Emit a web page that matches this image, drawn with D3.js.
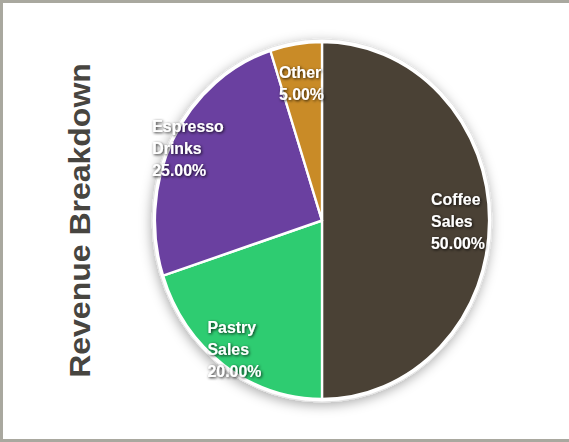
<!DOCTYPE html>
<html>
<head>
<meta charset="utf-8">
<script src="https://cdn.jsdelivr.net/npm/d3@7"></script>
<style>
  html, body { margin: 0; padding: 0; background: #fff; }
  svg { display: block; }
</style>
</head>
<body>
<svg id="chart" width="569" height="442"></svg>
<script>
// ---- data ----
const categories = ["Coffee Sales", "Pastry Sales", "Espresso Drinks", "Other"];
const values = [50, 20, 25, 5];
const labelLines = [["Coffee", "Sales"], ["Pastry", "Sales"], ["Espresso", "Drinks"], ["Other"]];
const colors = ["#4A4135", "#2ECC71", "#6A40A0", "#C98B27"];
const title = "Revenue Breakdown";

// ---- layout (label distance from centre, as a fraction of the radius) ----
const labelRadius = [0.815, 0.89, 0.9, 0.78];

const W = 569, H = 442;
const cx = 322, cy = 220.5, R = 178.5, sx = 0.936;

const svg = d3.select("#chart");
const defs = svg.append("defs");
const sh = defs.append("filter").attr("id", "pieShadow").attr("x", "-20%").attr("y", "-20%").attr("width", "140%").attr("height", "140%");
sh.append("feDropShadow").attr("dx", -1).attr("dy", 3).attr("stdDeviation", 6).attr("flood-color", "#000").attr("flood-opacity", 0.32);
const ts = defs.append("filter").attr("id", "txtShadow").attr("x", "-20%").attr("y", "-20%").attr("width", "140%").attr("height", "140%");
ts.append("feDropShadow").attr("dx", 1).attr("dy", 1).attr("stdDeviation", 1.6).attr("flood-color", "#000").attr("flood-opacity", 0.85);

// frame
svg.append("rect").attr("x", 0).attr("y", 0).attr("width", W).attr("height", H).attr("fill", "#fff");
svg.append("rect").attr("x", 0).attr("y", 0).attr("width", W).attr("height", 3).attr("fill", "#A9A89F");
svg.append("rect").attr("x", 0).attr("y", 0).attr("width", 3).attr("height", H).attr("fill", "#A9A89F");
svg.append("rect").attr("x", 0).attr("y", 439).attr("width", W).attr("height", 3).attr("fill", "#A9A89F");

// title
svg.append("text")
  .attr("transform", `translate(90,${cy}) scale(${sx},1) rotate(-90)`)
  .attr("text-anchor", "middle")
  .attr("font-family", "Liberation Sans, Arial, sans-serif")
  .attr("font-weight", "bold")
  .attr("font-size", 32)
  .attr("fill", "#474540")
  .text(title);

const g = svg.append("g").attr("transform", `translate(${cx},${cy}) scale(${sx},1)`);

const data = categories.map((c, i) => ({ cat: c, value: values[i], lines: labelLines[i], color: colors[i], lr: labelRadius[i] }));
const pie = d3.pie().value(d => d.value).sort(null);
const arcs = pie(data);
const arc = d3.arc().innerRadius(0).outerRadius(R);

// outer ring
g.append("circle").attr("r", R + 3).attr("fill", "#fff").attr("stroke", "#e2e2e2").attr("stroke-width", 1)
  .attr("filter", "url(#pieShadow)");

g.append("g").selectAll("path").data(arcs).join("path")
  .attr("d", arc)
  .attr("fill", d => d.data.color)
  .attr("stroke", "#fff")
  .attr("stroke-width", 2.5)
  .attr("stroke-linejoin", "round");

const total = d3.sum(values);
const lh = 22;
const labels = g.append("g").selectAll("g").data(arcs).join("g")
  .attr("filter", "url(#txtShadow)");

labels.each(function(d) {
  const r = R * d.data.lr;
  const [lx, ly] = d3.arc().innerRadius(r).outerRadius(r).centroid(d);
  const lines = d.data.lines.concat([(d.data.value / total * 100).toFixed(2) + "%"]);
  const t = d3.select(this).append("text")
    .attr("font-family", "Liberation Sans, Arial, sans-serif")
    .attr("font-weight", "bold")
    .attr("font-size", 17)
    .attr("fill", "#fff");
  lines.forEach((ln, i) => {
    t.append("tspan").attr("x", 0).attr("y", i * lh).text(ln);
  });
  const bb = t.node().getBBox();
  const tx = lx - bb.width / 2;
  const ty = ly - (bb.y + bb.height / 2);
  t.attr("transform", `translate(${tx},${ty})`);
});
</script>
</body>
</html>
